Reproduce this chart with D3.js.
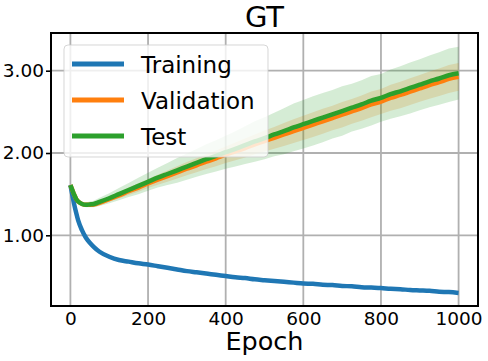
<!DOCTYPE html>
<html>
<head>
    <title>GT</title>
    <style>
        body {
            margin: 0;
            background: #fff;
        }
        text {
            font-family: "DejaVu Sans", sans-serif;
            fill: #000;
        }
        .grid line {
            stroke: #b0b0b0;
            stroke-width: 1.8px;
        }
        .curve {
            fill: none;
            stroke-width: 4.5px;
            stroke-linejoin: round;
        }
    </style>
</head>
<body>
<script src="https://cdn.jsdelivr.net/npm/d3@7"></script>
<script>
    var width = 488;
    var height = 361;
    var margin = {top: 33, right: 10, bottom: 55, left: 51};

    var epochs = [0, 5, 10, 15, 20, 30, 40, 50, 60, 75, 100, 125, 150, 175, 200, 225, 250, 275, 300, 325, 350, 375,
        400, 425, 450, 475, 500, 525, 550, 575, 600, 625, 650, 675, 700, 725, 750, 775, 800, 825, 850, 875, 900,
        925, 950, 975, 1000];

    var training = [1.61, 1.49, 1.37, 1.27, 1.18, 1.06, 0.97, 0.91, 0.86, 0.80, 0.74, 0.70, 0.68, 0.66, 0.645,
        0.625, 0.605, 0.585, 0.565, 0.55, 0.535, 0.52, 0.505, 0.49, 0.48, 0.465, 0.455, 0.445, 0.435, 0.425, 0.415,
        0.41, 0.40, 0.395, 0.385, 0.38, 0.37, 0.365, 0.36, 0.35, 0.345, 0.335, 0.33, 0.325, 0.315, 0.31, 0.30];

    var validation = [1.61, 1.55, 1.49, 1.44, 1.41, 1.38, 1.37, 1.37, 1.375, 1.395, 1.44, 1.485, 1.535, 1.58, 1.63,
        1.675, 1.72, 1.765, 1.81, 1.85, 1.895, 1.935, 1.98, 2.02, 2.06, 2.105, 2.145, 2.185, 2.225, 2.265, 2.305,
        2.345, 2.385, 2.425, 2.465, 2.505, 2.545, 2.59, 2.625, 2.67, 2.705, 2.745, 2.785, 2.825, 2.86, 2.9, 2.925];

    var test = [1.61, 1.55, 1.49, 1.44, 1.41, 1.38, 1.37, 1.375, 1.38, 1.405, 1.45, 1.50, 1.55, 1.60, 1.65,
        1.70, 1.745, 1.79, 1.835, 1.88, 1.925, 1.965, 2.01, 2.05, 2.095, 2.14, 2.18, 2.225, 2.265, 2.31, 2.35,
        2.39, 2.43, 2.47, 2.51, 2.55, 2.59, 2.635, 2.67, 2.715, 2.75, 2.79, 2.83, 2.87, 2.905, 2.945, 2.97];

    // spread of the shaded bands (half width)
    var validationStd = [0, 0.005, 0.008, 0.01, 0.01, 0.012, 0.015, 0.018, 0.02, 0.025, 0.03, 0.038, 0.045, 0.05,
        0.055, 0.06, 0.068, 0.075, 0.08, 0.085, 0.09, 0.095, 0.10, 0.108, 0.115, 0.12, 0.128, 0.132, 0.14, 0.145,
        0.148, 0.15, 0.152, 0.15, 0.155, 0.15, 0.153, 0.156, 0.152, 0.158, 0.16, 0.162, 0.163, 0.165, 0.167,
        0.17, 0.168];

    var testStd = [0, 0.01, 0.015, 0.02, 0.02, 0.025, 0.03, 0.035, 0.04, 0.05, 0.06, 0.075, 0.085, 0.10, 0.11,
        0.12, 0.135, 0.15, 0.16, 0.17, 0.18, 0.19, 0.20, 0.215, 0.23, 0.245, 0.255, 0.265, 0.28, 0.29, 0.295,
        0.30, 0.30, 0.295, 0.30, 0.29, 0.295, 0.30, 0.29, 0.30, 0.305, 0.31, 0.31, 0.315, 0.32, 0.325, 0.32];

    var xTicks = [0, 200, 400, 600, 800, 1000];
    var yTicks = [1, 2, 3];

    var series = [
        {name: "Training", values: training, std: null, color: "#1f77b4"},
        {name: "Validation", values: validation, std: validationStd, color: "#ff7f0e"},
        {name: "Test", values: test, std: testStd, color: "#2ca02c"}
    ];

    var x = d3.scaleLinear().domain([-50, 1050]).range([margin.left, width - margin.right]);
    var y = d3.scaleLinear().domain([0.141, 3.458]).range([height - margin.bottom, margin.top]);

    var svg = d3.select("body").append("svg")
            .attr("width", width)
            .attr("height", height);

    var grid = svg.append("g").attr("class", "grid");
    grid.selectAll(".gx").data(xTicks).enter().append("line")
            .attr("x1", x).attr("x2", x)
            .attr("y1", margin.top).attr("y2", height - margin.bottom);
    grid.selectAll(".gy").data(yTicks).enter().append("line")
            .attr("x1", margin.left).attr("x2", width - margin.right)
            .attr("y1", y).attr("y2", y);

    var line = d3.line()
            .x(function(d, i) {return x(epochs[i]);})
            .y(function(d) {return y(d);})
            .curve(d3.curveMonotoneX);

    series.forEach(function(s) {
        if (s.std) {
            var area = d3.area()
                    .x(function(d, i) {return x(epochs[i]);})
                    .y0(function(d, i) {return y(d - s.std[i]);})
                    .y1(function(d, i) {return y(d + s.std[i]);});
            svg.append("path")
                    .attr("d", area(s.values))
                    .attr("fill", s.color)
                    .attr("fill-opacity", 0.2);
        }
    });

    series.forEach(function(s) {
        svg.append("path")
                .attr("class", "curve")
                .attr("d", line(s.values))
                .attr("stroke", s.color);
    });

    // axes box
    svg.append("rect")
            .attr("x", margin.left)
            .attr("y", margin.top)
            .attr("width", width - margin.right - margin.left)
            .attr("height", height - margin.bottom - margin.top)
            .attr("fill", "none")
            .attr("stroke", "#000")
            .attr("stroke-width", 2);

    var xAxis = svg.append("g")
            .attr("transform", "translate(0," + (height - margin.bottom) + ")")
            .call(d3.axisBottom(x).tickValues(xTicks).tickSize(0).tickPadding(6).tickFormat(d3.format("d")));
    xAxis.select(".domain").remove();
    xAxis.selectAll("text").style("font-size", "18.5px").attr("dy", "0.71em");

    var yAxis = svg.append("g")
            .attr("transform", "translate(" + margin.left + ",0)")
            .call(d3.axisLeft(y).tickValues(yTicks).tickSize(5).tickPadding(2).tickFormat(d3.format(".2f")));
    yAxis.select(".domain").remove();
    yAxis.selectAll("line").attr("stroke", "#000").attr("stroke-width", 1.6);
    yAxis.selectAll("text").style("font-size", "18.5px");

    svg.append("text")
            .attr("x", (margin.left + width - margin.right) / 2)
            .attr("y", 27)
            .attr("text-anchor", "middle")
            .style("font-size", "29px")
            .text("GT");

    svg.append("text")
            .attr("x", (margin.left + width - margin.right) / 2)
            .attr("y", 350)
            .attr("text-anchor", "middle")
            .style("font-size", "25.5px")
            .text("Epoch");

    var legend = svg.append("g");
    legend.append("rect")
            .attr("x", 64).attr("y", 45)
            .attr("width", 204).attr("height", 112)
            .attr("rx", 4)
            .attr("fill", "#fff").attr("fill-opacity", 0.8)
            .attr("stroke", "#cccccc").attr("stroke-opacity", 0.8);
    var item = legend.selectAll(".item").data(series).enter().append("g")
            .attr("transform", function(d, i) {return "translate(0," + (64 + i * 36) + ")";});
    item.append("line")
            .attr("x1", 72).attr("x2", 124)
            .attr("stroke", function(d) {return d.color;})
            .attr("stroke-width", 5);
    item.append("text")
            .attr("x", 141).attr("y", 9)
            .style("font-size", "23px")
            .text(function(d) {return d.name;});
</script>
</body>
</html>
